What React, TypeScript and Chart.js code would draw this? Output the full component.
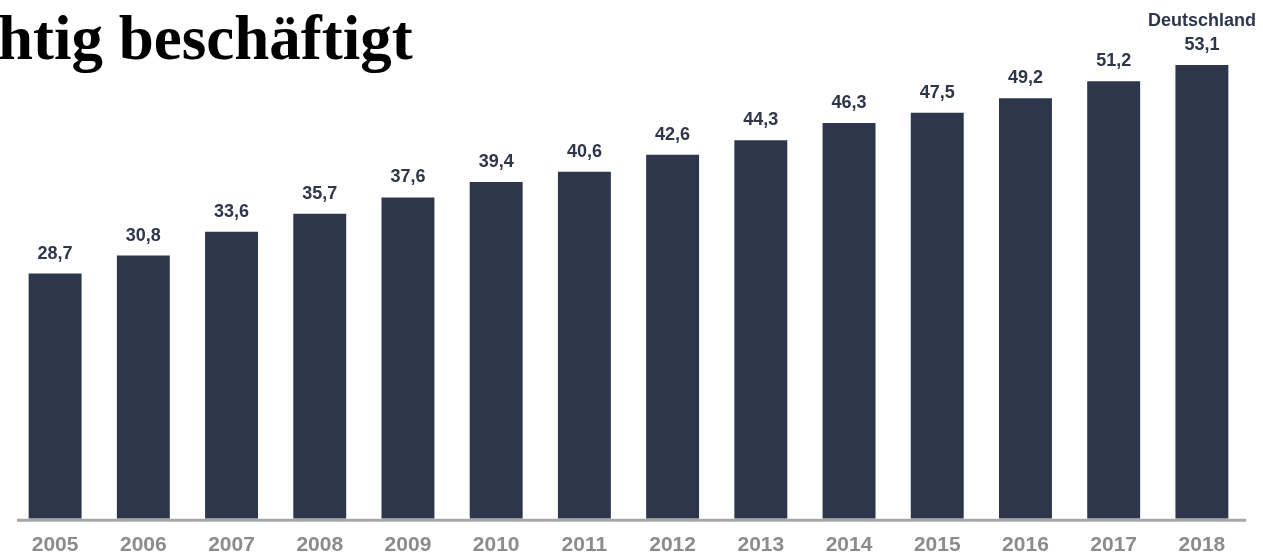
import React, { useEffect, useRef } from "react";
import { Chart, registerables } from "chart.js";

Chart.register(...registerables);

const years = ["2005", "2006", "2007", "2008", "2009", "2010", "2011", "2012", "2013", "2014", "2015", "2016", "2017", "2018"];
const values = [28.7, 30.8, 33.6, 35.7, 37.6, 39.4, 40.6, 42.6, 44.3, 46.3, 47.5, 49.2, 51.2, 53.1];
const seriesName = "Deutschland";
const titleText = "htig beschäftigt";

const BAR = "#2e364b";
const LABEL = "#2e364b";

const labelsPlugin = {
  id: "valueLabels",
  afterDatasetsDraw(chart: any) {
    const { ctx, chartArea } = chart;
    const meta = chart.getDatasetMeta(0);
    ctx.save();
    // axis line
    ctx.strokeStyle = "#a6a6a6";
    ctx.lineWidth = 3;
    ctx.beginPath();
    ctx.moveTo(chartArea.left + 6, chartArea.bottom + 1.5);
    ctx.lineTo(chartArea.right, chartArea.bottom + 1.5);
    ctx.stroke();

    ctx.fillStyle = LABEL;
    ctx.font = "bold 18px 'Liberation Sans', Arial, sans-serif";
    ctx.textAlign = "center";
    ctx.textBaseline = "alphabetic";
    meta.data.forEach((bar: any, i: number) => {
      const v = values[i];
      const txt = v.toFixed(1).replace(".", ",");
      ctx.fillText(txt, bar.x, bar.y - 15);
      if (i === values.length - 1) {
        ctx.fillText(seriesName, bar.x, bar.y - 39);
      }
    });
    ctx.restore();
  },
};

export default function App() {
  const ref = useRef<HTMLCanvasElement | null>(null);
  useEffect(() => {
    if (!ref.current) return;
    const chart = new Chart(ref.current, {
      type: "bar",
      data: {
        labels: years,
        datasets: [
          {
            label: seriesName,
            data: values,
            backgroundColor: BAR,
            categoryPercentage: 1,
            barPercentage: 0.6,
          },
        ],
      },
      options: {
        animation: false,
        responsive: false,
        maintainAspectRatio: false,
        layout: { padding: { left: 11, right: 17, top: 6, bottom: 0 } },
        plugins: {
          legend: { display: false },
          tooltip: { enabled: false },
          title: { display: false },
        },
        scales: {
          x: {
            grid: { display: false, drawTicks: false },
            border: { display: false },
            ticks: {
              color: "#8c8c8c",
              font: { family: "'Liberation Sans', Arial, sans-serif", size: 21, weight: "bold" },
              padding: 14,
            },
          },
          y: {
            display: false,
            min: 0,
            max: 60,
          },
        },
      },
      plugins: [labelsPlugin],
    });
    return () => chart.destroy();
  }, []);

  return (
    <div style={{ position: "absolute", left: 0, top: 0, width: 1263, height: 556, background: "#fff", overflow: "hidden" }}>
      <canvas ref={ref} width={1263} height={572} style={{ position: "absolute", left: 0, top: 0 }} />
      <div
        style={{
          position: "absolute",
          left: -2,
          top: 0,
          fontFamily: "'Liberation Serif', 'Times New Roman', serif",
          fontWeight: "bold",
          fontSize: 63,
          lineHeight: "76px",
          color: "#000",
          whiteSpace: "nowrap",
        }}
      >
        {titleText}
      </div>
    </div>
  );
}
